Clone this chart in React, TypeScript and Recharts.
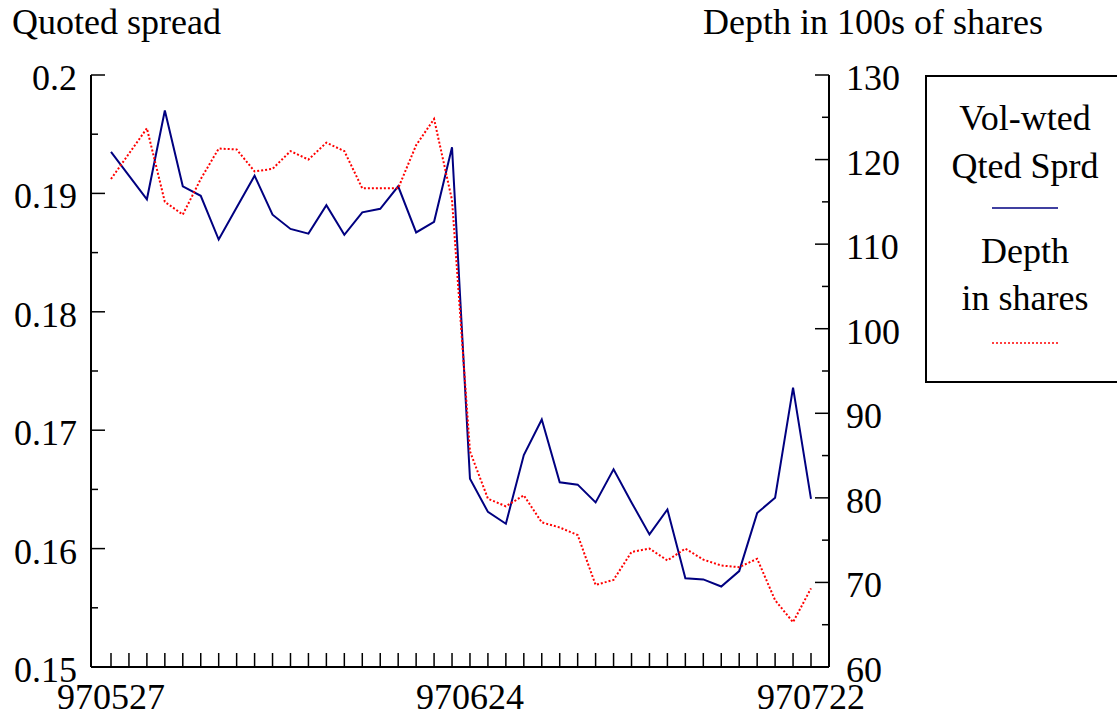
import React from 'react';
import { LineChart, Line, XAxis, YAxis, Legend } from 'recharts';

const dates = [
  '970527', '970528', '970529', '970530',
  '970602', '970603', '970604', '970605', '970606',
  '970609', '970610', '970611', '970612', '970613',
  '970616', '970617', '970618', '970619', '970620',
  '970623', '970624', '970625', '970626', '970627',
  '970630', '970701', '970702', '970703',
  '970707', '970708', '970709', '970710', '970711',
  '970714', '970715', '970716', '970717', '970718',
  '970721', '970722',
];

const spread = [
  0.1935, 0.1915, 0.1895, 0.1970, 0.1906, 0.1898, 0.1861, 0.1888, 0.1915, 0.1882,
  0.1870, 0.1866, 0.1890, 0.1865, 0.1884, 0.1887, 0.1906, 0.1867, 0.1876, 0.1939,
  0.1659, 0.1631, 0.1621, 0.1679, 0.1709, 0.1656, 0.1654, 0.1639, 0.1667, 0.1639,
  0.1612, 0.1633, 0.1575, 0.1574, 0.1568, 0.1581, 0.1630, 0.1643, 0.1736, 0.1642,
];

const depth = [
  117.7, 120.7, 123.7, 115.0, 113.5, 117.7, 121.3, 121.2, 118.6, 118.9,
  121.0, 120.0, 122.0, 121.0, 116.6, 116.6, 116.6, 121.7, 124.8, 115.2,
  85.5, 79.9, 79.0, 80.3, 77.1, 76.5, 75.6, 69.7, 70.3, 73.6,
  74.0, 72.6, 74.0, 72.7, 72.0, 71.8, 72.8, 67.9, 65.3, 69.3,
];

const leftTicks = [0.15, 0.155, 0.16, 0.165, 0.17, 0.175, 0.18, 0.185, 0.19, 0.195, 0.2];
const leftLabels = ['0.15', '0.16', '0.17', '0.18', '0.19', '0.2'];
const rightTicks = [60, 65, 70, 75, 80, 85, 90, 95, 100, 105, 110, 115, 120, 125, 130];
const rightLabels = ['60', '70', '80', '90', '100', '110', '120', '130'];
const xLabels = ['970527', '970624', '970722'];

const leftTitle = 'Quoted spread';
const rightTitle = 'Depth in 100s of shares';
const legendSpread = ['Vol-wted', 'Qted Sprd'];
const legendDepth = ['Depth', 'in shares'];

const data = dates.map((d, i) => ({ date: d, spread: spread[i], depth: depth[i] }));

const FONT = "'Liberation Serif', 'Times New Roman', Times, serif";
const FS = 36;
const BLUE = '#000080';
const RED = '#ff0000';

const fmtLeft = (v: number) => String(Number(v.toFixed(2)));

const LeftTick = (props: any) => {
  const { x, y, payload } = props;
  const lbl = fmtLeft(payload.value);
  const major = leftLabels.includes(lbl) && Math.abs(payload.value * 100 - Math.round(payload.value * 100)) < 1e-6;
  return (
    <g>
      <line x1={x} x2={x + (major ? 14 : 7)} y1={y} y2={y} stroke="#000" strokeWidth={1.5} />
      {major && (
        <text x={x - 14} y={y + 15} textAnchor="end" fontFamily={FONT} fontSize={FS} fill="#000">
          {lbl}
        </text>
      )}
    </g>
  );
};

const RightTick = (props: any) => {
  const { x, y, payload } = props;
  const lbl = String(payload.value);
  const major = rightLabels.includes(lbl);
  return (
    <g>
      <line x1={x} x2={x - (major ? 14 : 7)} y1={y} y2={y} stroke="#000" strokeWidth={1.5} />
      {major && (
        <text x={x + 17} y={y + 15} textAnchor="start" fontFamily={FONT} fontSize={FS} fill="#000">
          {lbl}
        </text>
      )}
    </g>
  );
};

const XTick = (props: any) => {
  const { x, y, payload } = props;
  const lbl = String(payload.value);
  return (
    <g>
      <line x1={x} x2={x} y1={y} y2={y - 14} stroke="#000" strokeWidth={1.5} />
      {xLabels.includes(lbl) && (
        <text x={x} y={y + 42} textAnchor="middle" fontFamily={FONT} fontSize={FS} fill="#000">
          {lbl}
        </text>
      )}
    </g>
  );
};

const LegendBox = () => (
  <svg width={192} height={309} style={{ display: 'block' }}>
    <path d="M193 1 H1 V307 H193" fill="none" stroke="#000" strokeWidth={2} />
    <text x={100} y={55} textAnchor="middle" fontFamily={FONT} fontSize={FS} fill="#000">{legendSpread[0]}</text>
    <text x={100} y={103} textAnchor="middle" fontFamily={FONT} fontSize={FS} fill="#000">{legendSpread[1]}</text>
    <line x1={67} x2={133} y1={133} y2={133} stroke={BLUE} strokeWidth={1.5} />
    <text x={100} y={188} textAnchor="middle" fontFamily={FONT} fontSize={FS} fill="#000">{legendDepth[0]}</text>
    <text x={100} y={235} textAnchor="middle" fontFamily={FONT} fontSize={FS} fill="#000">{legendDepth[1]}</text>
    <line x1={67} x2={133} y1={268} y2={268} stroke={RED} strokeWidth={1.5} strokeDasharray="2 2" />
  </svg>
);

export default function App() {
  return (
    <div style={{ position: 'absolute', left: 0, top: 0, width: 1117, height: 717, overflow: 'hidden', background: '#fff' }}>
      <LineChart width={1117} height={717} data={data} margin={{ top: 75, right: 208, bottom: 0, left: 0 }}>
        <XAxis
          dataKey="date"
          interval={0}
          height={50}
          tickSize={0}
          tickMargin={0}
          tickLine={false}
          tick={<XTick />}
          padding={{ left: 20, right: 18 }}
          axisLine={{ stroke: '#000', strokeWidth: 2 }}
        />
        <XAxis
          xAxisId="top"
          dataKey="date"
          orientation="top"
          height={0}
          tick={false}
          tickLine={false}
          axisLine={{ stroke: '#000', strokeWidth: 2 }}
        />
        <YAxis
          yAxisId="left"
          orientation="left"
          width={91}
          domain={[0.15, 0.2]}
          ticks={leftTicks}
          interval={0}
          tickSize={0}
          tickMargin={0}
          tickLine={false}
          tick={<LeftTick />}
          allowDataOverflow
          axisLine={{ stroke: '#000', strokeWidth: 2 }}
          label={{
            content: () => (
              <text x={12} y={34} fontFamily={FONT} fontSize={FS} fill="#000">{leftTitle}</text>
            ),
          }}
        />
        <YAxis
          yAxisId="right"
          orientation="right"
          width={80}
          domain={[60, 130]}
          ticks={rightTicks}
          interval={0}
          tickSize={0}
          tickMargin={0}
          tickLine={false}
          tick={<RightTick />}
          allowDataOverflow
          axisLine={{ stroke: '#000', strokeWidth: 2 }}
          label={{
            content: () => (
              <text x={703} y={34} fontFamily={FONT} fontSize={FS} fill="#000">{rightTitle}</text>
            ),
          }}
        />
        <Legend
          layout="vertical"
          align="center"
          verticalAlign="middle"
          content={() => <LegendBox />}
          wrapperStyle={{ left: 925, top: 75, width: 192, height: 309 }}
        />
        <Line
          yAxisId="left"
          dataKey="spread"
          stroke={BLUE}
          strokeWidth={2}
          dot={false}
          activeDot={false}
          isAnimationActive={false}
          type="linear"
        />
        <Line
          yAxisId="right"
          dataKey="depth"
          stroke={RED}
          strokeWidth={2}
          strokeDasharray="2 2"
          dot={false}
          activeDot={false}
          isAnimationActive={false}
          type="linear"
        />
      </LineChart>
    </div>
  );
}
